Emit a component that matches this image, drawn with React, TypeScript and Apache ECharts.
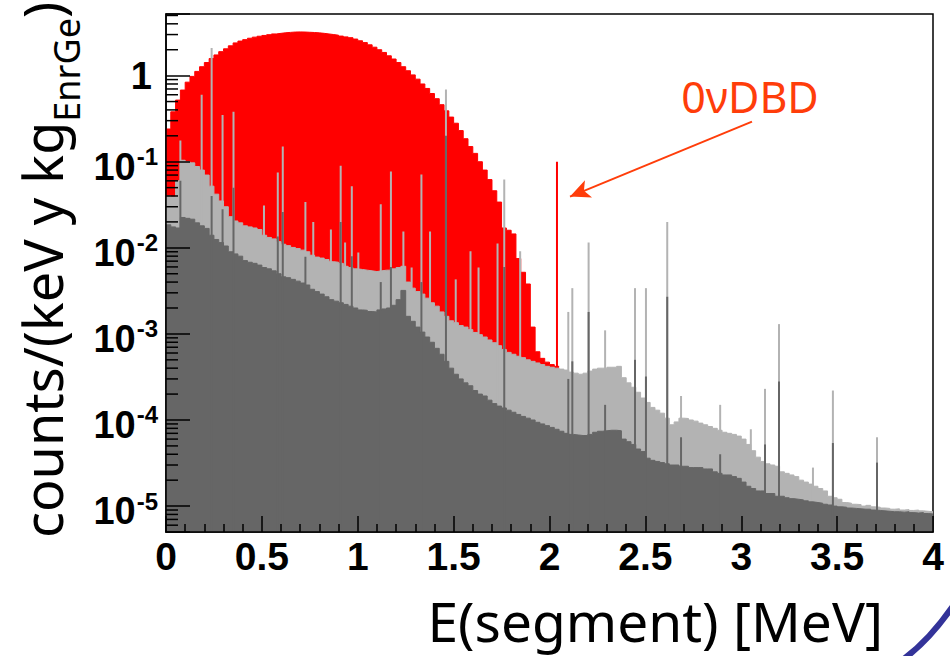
import React, { useEffect, useRef } from 'react';
import * as echarts from 'echarts';

// Histogram bin width (MeV); bins start at 0
const BIN_WIDTH = 0.025;

// 2nbb spectrum (red), counts/(keV y kg), bins 0 .. 2.05 MeV
const redCounts = [
  0.24, 0.38, 0.52, 0.68, 0.84, 0.98, 1.12, 1.27, 1.42, 1.58,
  1.74, 1.9, 2.05, 2.22, 2.4, 2.52, 2.62, 2.72, 2.8, 2.87,
  2.93, 2.99, 3.05, 3.1, 3.15, 3.18, 3.21, 3.22, 3.21, 3.19,
  3.17, 3.14, 3.1, 3.05, 3.0, 2.95, 2.88, 2.82, 2.76, 2.66,
  2.54, 2.42, 2.28, 2.14, 2.0, 1.86, 1.7, 1.56, 1.42, 1.27,
  1.14, 1.02, 0.91, 0.8, 0.71, 0.62, 0.54, 0.46, 0.39, 0.33,
  0.28, 0.23, 0.185, 0.15, 0.125, 0.1, 0.08, 0.062, 0.046, 0.034,
  0.017, 0.016, 0.0145, 0.0075, 0.0052, 0.0038, 0.0012, 0.00062, 0.00052, 0.00047,
  0.00044, 0.00042,
];

// Light grey background, bins 0 .. 4 MeV
const lightCounts = [
  0.04, 0.039, 0.06, 0.104, 0.1, 0.097, 0.088, 0.08, 0.07, 0.052,
  0.042, 0.035, 0.03, 0.023, 0.0205, 0.0195, 0.018, 0.0175, 0.017, 0.0163,
  0.014, 0.0132, 0.0127, 0.0118, 0.011, 0.0106, 0.0101, 0.0098, 0.0094, 0.009,
  0.0082, 0.0078, 0.0076, 0.0073, 0.0069, 0.0068, 0.0066, 0.0061, 0.0059, 0.0057,
  0.0056, 0.0055, 0.0054, 0.0053, 0.0054, 0.0055, 0.0055, 0.0057, 0.0059, 0.0061,
  0.004, 0.0034, 0.0031, 0.0029, 0.0026, 0.0023, 0.0021, 0.0018, 0.0016, 0.00142,
  0.00135, 0.00125, 0.0012, 0.00112, 0.00104, 0.00098, 0.00092, 0.00085, 0.00079, 0.00073,
  0.00066, 0.00061, 0.00058, 0.00055, 0.00053, 0.0005, 0.00048, 0.00046, 0.00044, 0.00042,
  0.00041, 0.0004, 0.00039, 0.00038, 0.00036, 0.00035, 0.00034, 0.00035, 0.00037, 0.00039,
  0.0004, 0.0004, 0.00041, 0.00041, 0.00042, 0.00031, 0.00027, 0.00024, 0.00021, 0.00018,
  0.00016, 0.00014, 0.00013, 0.00012, 0.000105, 0.000088, 0.000095, 0.000105, 0.000104, 0.0001,
  0.000097, 0.000092, 0.000088, 0.000084, 0.00008, 0.000076, 0.000072, 0.00007, 0.000068, 0.000065,
  0.00006, 0.000052, 0.000044, 0.000037, 0.000033, 0.000031, 0.00003, 0.000029, 0.000025, 0.000024,
  0.000023, 0.000022, 0.00002, 0.000019, 0.000018, 0.000017, 0.000016, 0.000015, 0.000013, 0.0000125,
  0.000012, 0.000011, 0.0000108, 0.0000105, 0.0000104, 0.00001, 0.0000102, 0.0000098, 0.0000097, 0.0000095,
  0.0000094, 0.0000092, 0.0000093, 0.000009, 0.0000091, 0.0000089, 0.000009, 0.0000088, 0.0000087, 0.0000086,
];

// Dark grey background, bins 0 .. 4 MeV
const darkCounts = [
  0.0185, 0.0175, 0.017, 0.0225, 0.022, 0.0215, 0.0195, 0.018, 0.0168, 0.014,
  0.0125, 0.0115, 0.0105, 0.009, 0.0085, 0.008, 0.0071, 0.0068, 0.0066, 0.0063,
  0.0059, 0.0057, 0.0054, 0.005, 0.0046, 0.0045, 0.0043, 0.0041, 0.0039, 0.0037,
  0.0033, 0.0031, 0.0029, 0.0027, 0.0025, 0.0024, 0.0023, 0.0022, 0.0021, 0.002,
  0.0019, 0.00188, 0.00182, 0.0018, 0.0019, 0.00195, 0.002, 0.00215, 0.0025, 0.0032,
  0.0016, 0.0014, 0.0012, 0.00105, 0.00092, 0.0008, 0.00068, 0.00058, 0.00048, 0.0004,
  0.00034, 0.0003, 0.00027, 0.00025, 0.00022, 0.0002, 0.00019, 0.00017, 0.000155, 0.000145,
  0.000138, 0.00013, 0.000123, 0.000116, 0.00011, 0.000105, 0.0001, 0.000094, 0.00009, 0.000086,
  0.000082, 0.000078, 0.000074, 0.00007, 0.000068, 0.000067, 0.000066, 0.000066, 0.000068, 0.000072,
  0.000074, 0.000075, 0.000076, 0.000076, 0.000075, 0.00006, 0.000056, 0.000052, 0.000046, 0.000043,
  0.000036, 0.000034, 0.000033, 0.000032, 0.000031, 0.00003, 0.00003, 0.000029, 0.000029, 0.000028,
  0.000028, 0.000028, 0.000027, 0.000027, 0.000025, 0.000024, 0.000023, 0.000023, 0.000022, 0.000021,
  0.000019, 0.000017, 0.000016, 0.000015, 0.000015, 0.000014, 0.000014, 0.000013, 0.000013, 0.0000125,
  0.0000122, 0.000012, 0.0000118, 0.0000115, 0.0000112, 0.000011, 0.0000108, 0.0000105, 0.0000103, 0.00001,
  0.0000098, 0.0000097, 0.0000095, 0.0000094, 0.0000093, 0.0000092, 0.0000092, 0.000009, 0.0000089, 0.0000088,
  0.0000087, 0.0000086, 0.0000086, 0.0000085, 0.0000086, 0.0000084, 0.0000083, 0.0000084, 0.0000082, 0.0000081,
];

// Gamma lines [E (MeV), peak height]
const lightLines = [
  [0.075, 0.176], [0.186, 0.6], [0.238, 2.1], [0.295, 0.35], [0.352, 0.38],
  [0.511, 0.031], [0.583, 0.075], [0.609, 0.15], [0.727, 0.034], [0.768, 0.02],
  [0.86, 0.0163], [0.911, 0.09], [0.934, 0.0115], [0.969, 0.052], [1.003, 0.0088],
  [1.12, 0.032], [1.173, 0.077], [1.238, 0.0155], [1.281, 0.0059], [1.332, 0.071],
  [1.377, 0.0155], [1.46, 0.69], [1.511, 0.0043], [1.588, 0.0091], [1.63, 0.0059],
  [1.729, 0.0112], [1.764, 0.062], [1.847, 0.0091], [2.098, 0.0018], [2.119, 0.0034],
  [2.204, 0.0115], [2.29, 0.0011], [2.446, 0.0034], [2.503, 0.0034], [2.614, 0.02],
  [2.686, 0.00019], [2.89, 0.00015], [3.05, 0.000078], [3.124, 0.00023], [3.197, 0.0013],
  [3.374, 0.000028], [3.478, 0.00022], [3.708, 0.000063],
];

const darkLines = [
  [0.075, 0.06], [0.238, 0.04], [0.295, 0.028], [0.352, 0.05], [0.583, 0.0135],
  [0.609, 0.026], [0.727, 0.0079], [0.911, 0.02], [0.969, 0.008], [1.12, 0.004],
  [1.173, 0.006], [1.332, 0.004], [1.46, 0.2], [1.764, 0.006], [2.098, 0.0003],
  [2.119, 0.00048], [2.204, 0.0018], [2.29, 0.00015], [2.446, 0.0005], [2.503, 0.00032],
  [2.614, 0.0027], [2.686, 0.000063], [2.89, 0.00004], [3.124, 0.000052], [3.197, 0.00028],
  [3.478, 0.000054], [3.708, 0.000032],
];

// 0nbb peak at Q-value
const dbdLine = [[2.039, 0.1]];

// Annotation arrow: [start, tip] in data coordinates
const arrowFrom = [3.056, 0.292];
const arrowTo = [2.107, 0.0394];

const Y_MIN = 5e-6;
const Y_MAX = 5.2;
const X_MIN = 0;
const X_MAX = 4;

const RED = '#ff0000';
const LIGHT = '#b3b3b3';
const DARK = '#666666';
const ANNOT = '#ff3d0a';

function toSteps(counts: number[]) {
  const pts = counts.map((v, i) => [i * BIN_WIDTH, v]);
  pts.push([counts.length * BIN_WIDTH, counts[counts.length - 1]]);
  return pts;
}

function spikeRenderer(color: string, width: number) {
  return (params: any, api: any) => {
    const top = api.coord([api.value(0), api.value(1)]);
    const base = api.coord([api.value(0), Y_MIN]);
    return {
      type: 'rect',
      shape: { x: top[0] - width / 2, y: top[1], width, height: base[1] - top[1] },
      style: { fill: color },
    };
  };
}

function histSeries(name: string, counts: number[], color: string, z: number, extra: any = {}) {
  return {
    name,
    type: 'line',
    step: 'end',
    data: toSteps(counts),
    showSymbol: false,
    symbol: 'none',
    silent: true,
    lineStyle: { color, width: 1 },
    areaStyle: { color, opacity: 1, origin: 'start' },
    z,
    ...extra,
  };
}

export default function App() {
  const ref = useRef<HTMLDivElement>(null);

  useEffect(() => {
    document.body.style.margin = '0';
    if (!ref.current) return;
    const chart = echarts.init(ref.current, null, { renderer: 'svg' });

    const yMinor: number[][] = [];
    for (let k = -6; k <= 0; k++) {
      for (let m = 2; m <= 9; m++) {
        const v = m * Math.pow(10, k);
        if (v > Y_MIN * 1.0001 && v < Y_MAX) yMinor.push([X_MIN, v]);
      }
    }

    const option: any = {
      animation: false,
      backgroundColor: '#ffffff',
      textStyle: { fontFamily: 'Liberation Sans' },
      grid: {
        left: 166,
        right: 17,
        top: 14,
        bottom: 124,
        show: true,
        borderColor: '#000',
        borderWidth: 1.5,
        backgroundColor: 'transparent',
        containLabel: false,
        outerBoundsMode: 'none',
      },
      xAxis: {
        type: 'value',
        min: X_MIN,
        max: X_MAX,
        interval: 0.5,
        z: 10,
        axisLine: { show: true, lineStyle: { color: '#000', width: 1.5 } },
        axisTick: { show: true, inside: true, length: 16, lineStyle: { color: '#000', width: 1.5 } },
        minorTick: { show: true, splitNumber: 5, length: 8, lineStyle: { color: '#000', width: 1.5 } },
        splitLine: { show: false },
        axisLabel: {
          color: '#000',
          fontSize: 39,
          fontWeight: 'bold',
          fontFamily: 'Liberation Sans',
          margin: 5,
          showMinLabel: true,
          showMaxLabel: true,
        },
      },
      yAxis: {
        type: 'log',
        logBase: 10,
        min: Y_MIN,
        max: Y_MAX,
        z: 10,
        axisLine: { show: true, lineStyle: { color: '#000', width: 1.5 } },
        axisTick: { show: true, inside: true, length: 24, lineStyle: { color: '#000', width: 1.5 } },
        minorTick: { show: false },
        splitLine: { show: false },
        axisLabel: {
          margin: 8,
          color: '#000',
          fontFamily: 'Liberation Sans',
          fontWeight: 'bold',
          formatter: (v: number) => {
            const e = Math.log10(v);
            const r = Math.round(e);
            if (Math.abs(e - r) > 1e-6) return '';
            if (r === 0) return '{one|1}';
            return `{b|10}{e|${r}}`;
          },
          rich: {
            one: { fontSize: 38, fontWeight: 'bold', fontFamily: 'Liberation Sans', color: '#000', padding: [0, 6, 0, 0] },
            b: { fontSize: 38, fontWeight: 'bold', fontFamily: 'Liberation Sans', color: '#000', padding: [10, 0, 0, 0] },
            e: { fontSize: 24, fontWeight: 'bold', fontFamily: 'Liberation Sans', color: '#000', verticalAlign: 'top', padding: [7, 0, 0, 1] },
          },
        },
      },
      series: [
        histSeries('2nbb', redCounts, RED, 2, {
          markLine: {
            silent: true,
            animation: false,
            symbol: ['none', 'arrow'],
            symbolSize: [14, 20],
            lineStyle: { color: ANNOT, width: 2, type: 'solid' },
            label: { show: false },
            data: [[{ coord: arrowFrom }, { coord: arrowTo }]],
          },
        }),
        {
          name: '0nbb',
          type: 'custom',
          renderItem: spikeRenderer(RED, 2),
          data: dbdLine,
          silent: true,
          clip: true,
          z: 3,
        },
        histSeries('bkg light', lightCounts, LIGHT, 4),
        {
          name: 'lines light',
          type: 'custom',
          renderItem: spikeRenderer(LIGHT, 2),
          data: lightLines,
          silent: true,
          clip: true,
          z: 5,
        },
        histSeries('bkg dark', darkCounts, DARK, 6),
        {
          name: 'lines dark',
          type: 'custom',
          renderItem: spikeRenderer(DARK, 2),
          data: darkLines,
          silent: true,
          clip: true,
          z: 7,
        },
        {
          name: 'y minor ticks',
          type: 'custom',
          silent: true,
          z: 12,
          data: yMinor,
          renderItem: (params: any, api: any) => {
            const p = api.coord([api.value(0), api.value(1)]);
            return {
              type: 'line',
              shape: { x1: p[0], y1: p[1], x2: p[0] + 12, y2: p[1] },
              style: { stroke: '#000', lineWidth: 1.5 },
            };
          },
        },
      ],
      graphic: [
        {
          type: 'text',
          x: 750,
          y: 96,
          style: {
            text: '0νDBD',
            fill: ANNOT,
            fontSize: 43,
            fontFamily: 'Noto Sans',
            textAlign: 'center',
            textVerticalAlign: 'middle',
          },
        },
        {
          type: 'text',
          x: 883,
          y: 620,
          style: {
            text: 'E(segment) [MeV]',
            fill: '#000',
            fontSize: 55,
            fontFamily: 'Noto Sans',
            textAlign: 'right',
            textVerticalAlign: 'middle',
          },
        },
        {
          type: 'text',
          x: 49.5,
          y: 538,
          rotation: Math.PI / 2,
          style: {
            text: '{m|counts/(keV y kg}{s|EnrGe}{m|)}',
            fill: '#000',
            textAlign: 'left',
            textVerticalAlign: 'middle',
            rich: {
              m: { fontSize: 54, fontFamily: 'Noto Sans', fill: '#000', verticalAlign: 'top' },
              s: { fontSize: 36, fontFamily: 'Noto Sans', fill: '#000', verticalAlign: 'top', padding: [33, 0, 0, 0] },
            },
          },
        },
        {
          type: 'bezierCurve',
          shape: { x1: 898, y1: 663, cpx1: 928, cpy1: 643, x2: 955, y2: 603 },
          style: { stroke: '#333399', lineWidth: 6, fill: 'none' },
        },
      ],
    };

    chart.setOption(option);
    return () => chart.dispose();
  }, []);

  return (
    <div
      ref={ref}
      style={{ position: 'absolute', left: 0, top: 0, width: 950, height: 656, background: '#fff' }}
    />
  );
}
